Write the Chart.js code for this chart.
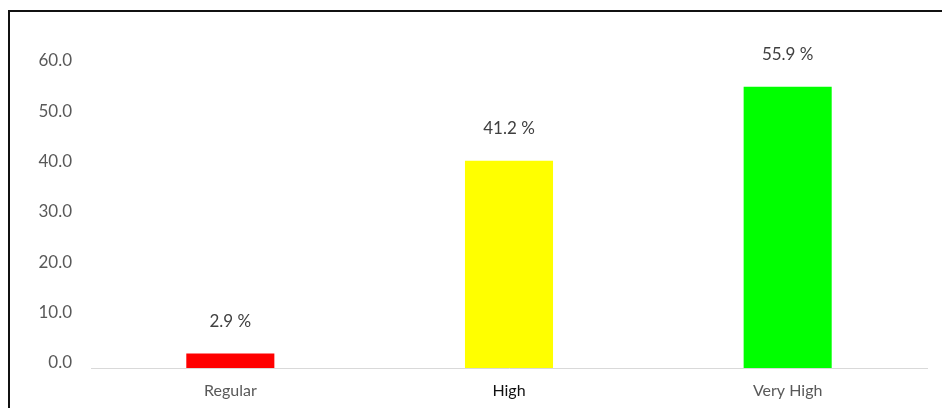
<!DOCTYPE html>
<html>
<head>
<meta charset="utf-8">
<script src="https://cdn.jsdelivr.net/npm/chart.js@4/dist/chart.umd.min.js"></script>
<style>
  html, body { margin: 0; padding: 0; background: #fff; }
  #wrap { position: relative; width: 942px; height: 408px; overflow: hidden; }
  #frame {
    position: absolute; left: 8px; top: 10px; right: -4px; bottom: -4px;
    border-left: 2px solid #111; border-top: 2px solid #111;
    pointer-events: none;
  }
  canvas { position: absolute; left: 0; top: 0; }
</style>
</head>
<body>
<div id="wrap">
  <canvas id="chart" width="942" height="408"></canvas>
  <div id="frame"></div>
</div>
<script>
// Levels and their share (%)
const categories = ['Regular', 'High', 'Very High'];
const percentages = [2.9, 41.2, 55.9];
const barColors = ['#ff0000', '#ffff00', '#00ff00'];
const yTicks = [0, 10, 20, 30, 40, 50, 60];

const FONT = 'Lato, "Open Sans", sans-serif';

// Writes "xx.x %" above each bar
const valueLabels = {
  id: 'valueLabels',
  afterDatasetsDraw(chart) {
    const { ctx } = chart;
    const meta = chart.getDatasetMeta(0);
    ctx.save();
    ctx.font = '17px ' + FONT;
    ctx.fillStyle = '#404040';
    ctx.textAlign = 'center';
    ctx.textBaseline = 'middle';
    meta.data.forEach((bar, i) => {
      const v = chart.data.datasets[0].data[i];
      ctx.fillText(v.toFixed(1) + ' %', bar.x, bar.y - 32);
    });
    ctx.restore();
  }
};

new Chart(document.getElementById('chart'), {
  type: 'bar',
  data: {
    labels: categories,
    datasets: [{
      data: percentages,
      backgroundColor: barColors,
      borderWidth: 0,
      barPercentage: 0.316,
      categoryPercentage: 1
    }]
  },
  options: {
    responsive: false,
    animation: false,
    layout: { padding: { top: 66, right: 15, bottom: 0, left: 0 } },
    plugins: {
      legend: { display: false },
      tooltip: { enabled: false }
    },
    scales: {
      x: {
        grid: { display: false, drawTicks: false },
        border: { display: true, color: '#d9d9d9', width: 1 },
        ticks: {
          padding: 13,
          font: { family: FONT, size: 16 },
          color: (c) => c.index === 1 ? '#111111' : '#595959'
        },
        afterFit(scale) { scale.height = 40; }
      },
      y: {
        min: 0,
        max: 60,
        grid: { display: false, drawTicks: false },
        border: { display: false },
        afterBuildTicks(scale) { scale.ticks = yTicks.map(v => ({ value: v })); },
        ticks: {
          padding: 19,
          labelOffset: -5,
          font: { family: FONT, size: 17 },
          color: '#595959',
          callback: (v) => Number(v).toFixed(1)
        },
        afterFit(scale) { scale.width = 91; }
      }
    }
  },
  plugins: [valueLabels]
});
</script>
</body>
</html>
